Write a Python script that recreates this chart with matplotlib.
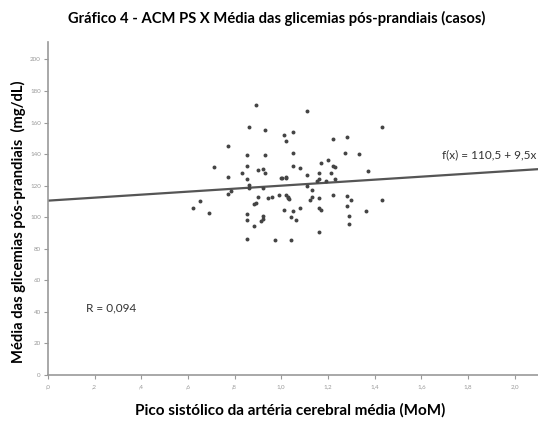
import matplotlib.pyplot as plt
import numpy as np

# pico sistolico ACM (MoM) vs media das glicemias pos-prandiais (mg/dL)
acm_ps = [0.891, 1.111, 0.861, 0.932, 1.432, 1.012, 1.052, 1.021, 1.221, 1.281,
          0.772, 0.852, 0.932, 1.052, 1.272, 1.332, 0.712, 0.852, 0.901, 0.922,
          0.932, 0.832, 0.772, 0.852, 1.002, 1.022, 1.052, 1.081, 1.172, 1.202,
          1.221, 1.232, 1.161, 1.212, 1.111, 1.372, 1.152, 1.162, 1.191, 1.232,
          0.861, 0.861, 0.921, 0.784, 0.772, 1.111, 1.132, 0.652, 0.621, 0.691,
          0.901, 0.941, 0.961, 0.991, 1.022, 1.029, 1.034, 1.132, 1.162, 1.122,
          1.221, 1.281, 1.300, 1.432, 0.882, 0.892, 1.012, 1.052, 1.081, 1.162,
          1.172, 1.281, 1.361, 0.852, 0.852, 0.921, 0.921, 0.912, 0.882, 1.042,
          1.061, 1.292, 1.292, 0.852, 0.972, 1.042, 1.161, 1.030, 1.000, 1.020]
glicemia = [171.2, 167.4, 157.2, 155.5, 157.2, 152.3, 154.3, 148.5, 149.8, 151.1,
            145.3, 139.4, 139.2, 140.7, 140.5, 140.3, 132.1, 132.3, 130.0, 130.8,
            128.2, 128.2, 125.5, 124.4, 124.9, 124.9, 132.7, 131.4, 134.2, 136.5,
            132.7, 131.6, 128.2, 127.8, 126.9, 129.1, 123.2, 124.1, 123.2, 124.1,
            120.2, 118.5, 118.5, 116.4, 114.5, 119.6, 117.5, 110.5, 106.1, 102.5,
            112.8, 112.0, 112.8, 114.1, 114.1, 112.6, 111.6, 112.8, 112.4, 111.1,
            113.8, 113.6, 110.9, 110.9, 108.6, 109.0, 104.6, 104.2, 106.1, 106.1,
            104.6, 106.8, 104.2, 101.9, 98.1, 100.8, 99.1, 97.4, 94.2, 100.3,
            98.4, 100.8, 95.7, 86.2, 85.6, 85.8, 90.6, 112.3, 125.0, 125.2]

intercept = 110.5
slope = 9.5
r_value = "0,094"

x_ticks = np.arange(0, 2.01, 0.2)
y_ticks = np.arange(0, 201, 20)


def fmt_x(v):
    s = f"{v:.1f}".replace(".", ",")
    return s[1:] if s.startswith("0") else s


plt.rcParams["font.family"] = ["Lato", "DejaVu Sans"]

fig = plt.figure(figsize=(5.38, 4.23), dpi=100)
ax = fig.add_axes([0.089, 0.1135, 0.911, 0.787])

ax.scatter(acm_ps, glicemia, s=8, color="#444444", zorder=3, linewidths=0)

xs = np.array([0, 2.1])
ax.plot(xs, intercept + slope * xs, color="#555555", lw=1.6, zorder=2)

ax.set_xlim(0, 2.1)
ax.set_ylim(0, 211)
ax.set_xticks(x_ticks)
ax.set_xticklabels([fmt_x(v) for v in x_ticks])
ax.set_yticks(y_ticks)
ax.set_yticklabels([str(int(v)) for v in y_ticks])
ax.tick_params(labelsize=4.5, colors="#999999", length=3, width=0.8, pad=2)
ax.tick_params(axis="x", pad=4)

for side in ["top", "right"]:
    ax.spines[side].set_visible(False)
for side in ["left", "bottom"]:
    ax.spines[side].set_color("#999999")
    ax.spines[side].set_linewidth(1.2)

ax.text(0.165, 42.5, f"R = {r_value}", fontsize=8.5, color="#333333", va="center")
ax.text(1.69, 139.5, "f(x) = 110,5 + 9,5x", fontsize=8.5, color="#333333", va="center",
        clip_on=False)

fig.text(0.515, 0.957, "Gráfico 4 - ACM PS X Média das glicemias pós-prandiais (casos)",
         ha="center", va="center", fontsize=10.6, fontweight="bold")
fig.text(0.54, 0.03, "Pico sistólico da artéria cerebral média (MoM)",
         ha="center", va="center", fontsize=11, fontweight="bold")
fig.text(0.034, 0.475, "Média das glicemias pós-prandiais  (mg/dL)", rotation=90,
         ha="center", va="center", fontsize=10.6, fontweight="bold")

fig.savefig("out.png", dpi=100)
